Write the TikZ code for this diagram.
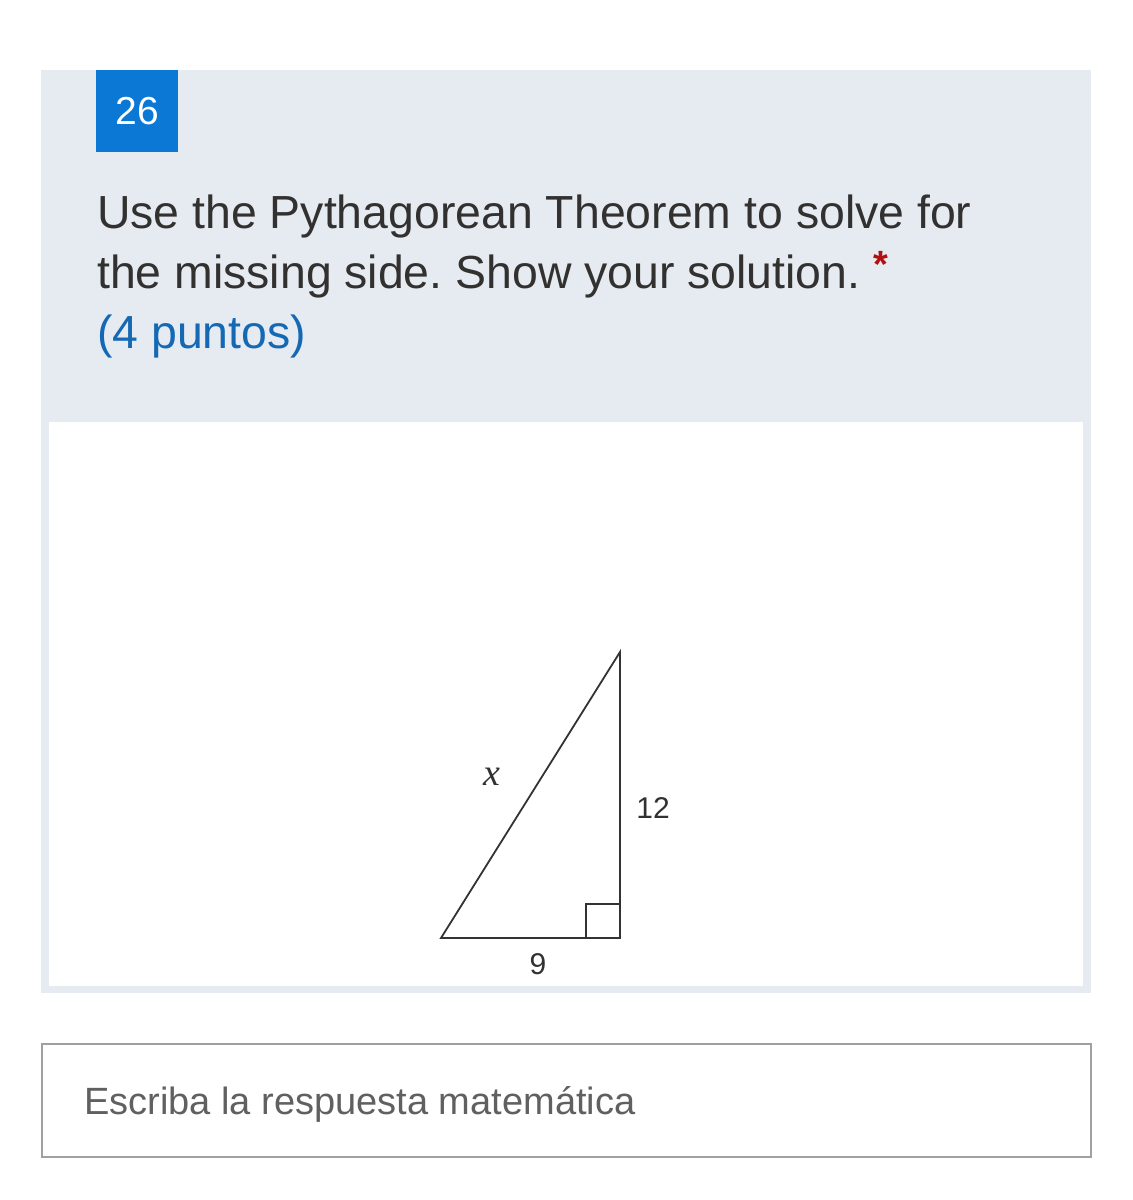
\documentclass[tikz,border=0pt]{standalone}
\usepackage{fontspec}
\setmainfont{Liberation Sans}
\newfontfamily\serifit{Liberation Serif}
\frenchspacing
\definecolor{panel}{HTML}{E5EBF1}
\definecolor{numblue}{HTML}{0A78D4}
\definecolor{txt}{HTML}{323130}
\definecolor{ptsblue}{HTML}{1468B4}
\definecolor{starred}{HTML}{B01010}
\definecolor{ansborder}{HTML}{A0A0A0}
\definecolor{anstxt}{HTML}{606060}
\definecolor{lineg}{HTML}{333333}
\begin{document}
\begin{tikzpicture}[x=1pt,y=-1pt,
  qtext/.style={anchor=base west,inner sep=0pt,text=txt,font=\fontsize{46.4}{55}\selectfont},
  lbl/.style={inner sep=0pt,text=txt,font=\fontsize{30}{36}\selectfont},
  side/.style={draw=lineg,line width=1.8pt}]
\useasboundingbox (0,0) rectangle (1133,1200);
\fill[white] (0,0) rectangle (1133,1200);
% panel
\fill[panel] (41,70) rectangle (1091,993);
\fill[white] (49,422) rectangle (1083,986);
% number box
\node[fill=numblue,minimum width=82pt,minimum height=82pt,inner sep=0pt,anchor=north west,text=white,font=\fontsize{39}{46}\selectfont] (num) at (96,70) {26};
% question text
\node[qtext] (l1) at (97,228) {Use the Pythagorean Theorem to solve for};
\node[qtext] (l2) at (97,288) {the missing side. Show your solution.};
\node[anchor=center,inner sep=0pt,text=starred,font=\bfseries\fontsize{38}{42}\selectfont] (star) at (881,264) {*};
\node[qtext,text=ptsblue] (l3) at (97,348) {(4 puntos)};
% triangle
\coordinate (A) at (441,938);
\coordinate (B) at (620,938);
\coordinate (C) at (620,652);
\draw[side,line join=miter] (A) -- (B) -- (C) -- cycle;
\draw[draw=lineg,line width=1.6pt] (586,938) -- (586,904) -- (620,904);
\node[inner sep=0pt,text=txt,font=\serifit\itshape\fontsize{38}{42}\selectfont] (xl) at (492,777) {x};
\node[lbl] (tw) at (653,808) {12};
\node[lbl] (nine) at (538,964) {9};
% answer box
\draw[draw=ansborder,line width=2pt,fill=white] (42,1044) rectangle (1091,1157);
\node[anchor=base west,inner sep=0pt,text=anstxt,font=\fontsize{38}{46}\selectfont] (ans) at (84,1114) {Escriba la respuesta matemática};
\end{tikzpicture}
\end{document}
